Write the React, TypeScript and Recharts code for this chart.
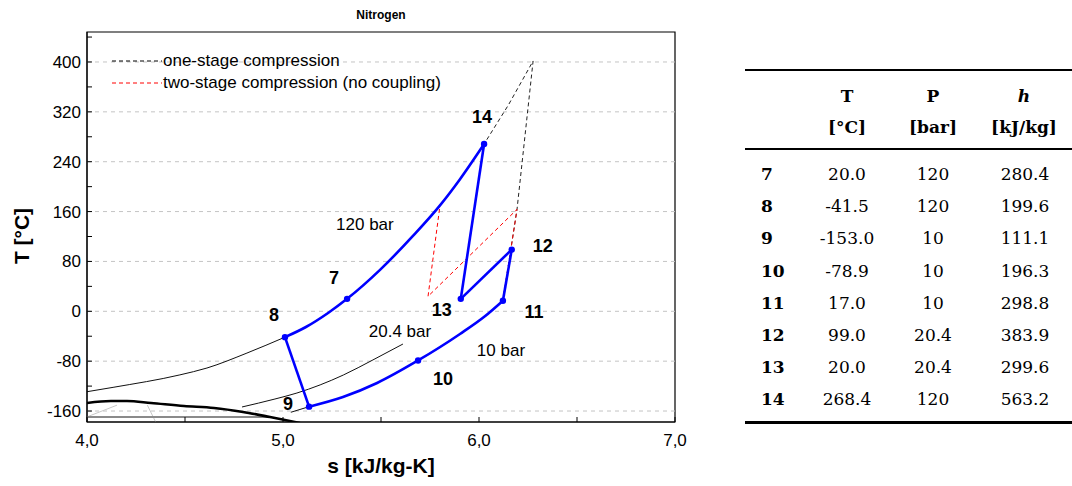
import {
  ComposedChart,
  Line,
  Scatter,
  XAxis,
  YAxis,
  ReferenceLine,
  ReferenceArea,
} from 'recharts'

// state points 7..14 (table + blue markers)
const stateIds = ['7', '8', '9', '10', '11', '12', '13', '14']
const stateS = [5.327, 5.01, 5.133, 5.689, 6.122, 6.167, 5.907, 6.026]
const stateT = [20.0, -41.5, -153.0, -78.9, 17.0, 99.0, 20.0, 268.4]
const stateP = ['120', '120', '10', '10', '10', '20.4', '20.4', '120']
const stateH = ['280.4', '199.6', '111.1', '196.3', '298.8', '383.9', '299.6', '563.2']

// 120 bar isobar, blue part 8 -> 7 -> 14
const bar120S = [5.01, 5.117, 5.23, 5.327, 5.495, 5.663, 5.801, 5.903, 6.026]
const bar120T = [-41.5, -25.2, -2.7, 20.0, 66.5, 121, 170, 212, 268.4]
// 120 bar isobar, thin black part left of 8
const bar120LowS = [4.0, 4.133, 4.474, 4.612, 4.816, 5.01]
const bar120LowT = [-129, -122, -102, -91, -67, -41.5]
// 10 bar isobar, blue part 9 -> 10 -> 11
const bar10S = [5.133, 5.306, 5.48, 5.689, 5.903, 6.03, 6.122]
const bar10T = [-153, -137.5, -115, -78.9, -36.4, -8, 17.0]
// 10 bar isobar, thin black below 9
const bar10LowS = [5.04, 5.133]
const bar10LowT = [-162, -153]
// 20.4 bar isobar (thin black)
const bar204S = [4.791, 4.959, 5.071, 5.308, 5.459, 5.612]
const bar204T = [-153.5, -140.7, -131.1, -102.2, -78, -52.5]
// saturation dome (vapour side)
const domeS = [4.0, 4.122, 4.204, 4.327, 4.495, 4.648, 4.796, 4.934, 5.087]
const domeT = [-147.1, -143.9, -143.9, -147.1, -151.9, -155.1, -161.5, -169.6, -179.2]
// lines inside the dome
const wetS = [4.0, 4.934]
const wetT = [-169.6, -169.6]
const quality1S = [4.0, 4.153]
const quality1T = [-169.4, -150.6]
const quality2S = [4.308, 4.35]
const quality2T = [-150.6, -177.4]
// one-stage compression 11 -> 120 bar, then cooling to 14
const oneStageS = [6.122, 6.194, 6.276, 6.15, 6.026]
const oneStageT = [17.0, 163.6, 401.6, 331, 268.4]
// two-stage compression (no coupling)
const twoStageS = [6.122, 6.194, 5.74, 5.801]
const twoStageT = [17.0, 163.6, 24, 170]

const isobarNames = ['120 bar', '20.4 bar', '10 bar']
const isobarLabelS = [5.418, 5.597, 6.112]
const isobarLabelT = [138.5, -33.2, -62.1]

const xTicks = [4, 4.5, 5, 5.5, 6, 6.5, 7]
const yTicks = [-160, -120, -80, -40, 0, 40, 80, 120, 160, 200, 240, 280, 320, 360, 400, 440]
const yGrid = [-160, -80, 0, 80, 160, 240, 320, 400]

const labelOffsets: Record<string, [number, number]> = {
  '7': [-13, -21],
  '8': [-11, -22],
  '9': [-21, -3],
  '10': [25, 19],
  '11': [31, 11],
  '12': [31, -4],
  '13': [-19, 11],
  '14': [-2, -27],
}

const pts = (s: number[], t: number[]) => s.map((v, i) => ({ s: v, T: t[i] }))
const seg = (a: number, b: number) => [
  { s: stateS[a], T: stateT[a] },
  { s: stateS[b], T: stateT[b] },
]

const statePoints = stateIds.map((id, i) => ({ id, s: stateS[i], T: stateT[i] }))
const isobarLabels = isobarNames.map((name, i) => ({ name, s: isobarLabelS[i], T: isobarLabelT[i] }))

const BLUE = '#0000ff'
const FONT = '"Liberation Sans", Arial, sans-serif'
const SERIF = '"DejaVu Serif", serif'

function StateMarker(props: any) {
  const { cx, cy, payload } = props
  const [dx, dy] = labelOffsets[payload.id] ?? [0, 0]
  return (
    <g>
      <circle cx={cx} cy={cy} r={3.2} fill={BLUE} />
      <text
        x={cx + dx}
        y={cy + dy}
        textAnchor="middle"
        dominantBaseline="central"
        fontSize={18}
        fontWeight="bold"
        fontFamily={FONT}
        fill="#000"
      >
        {payload.id}
      </text>
    </g>
  )
}

function IsobarLabel(props: any) {
  const { cx, cy, payload } = props
  return (
    <text x={cx} y={cy} textAnchor="middle" dominantBaseline="central" fontSize={17} fontFamily={FONT} fill="#000">
      {payload.name}
    </text>
  )
}

function line(key: string, data: any[], stroke: string, width: number, opts: any = {}) {
  return (
    <Line
      key={key}
      data={data}
      dataKey="T"
      type={opts.type ?? 'linear'}
      stroke={stroke}
      strokeWidth={width}
      strokeDasharray={opts.dash}
      dot={false}
      activeDot={false}
      isAnimationActive={false}
      legendType="none"
    />
  )
}

function Legend() {
  const rows = [
    { color: '#000', text: 'one-stage compression', y: 61 },
    { color: '#ff0000', text: 'two-stage compression (no coupling)', y: 83 },
  ]
  return (
    <>
      {rows.map((r) => (
        <div key={r.text} style={{ position: 'absolute', left: 112, top: r.y - 11, height: 22, display: 'flex', alignItems: 'center' }}>
          <svg width={50} height={4}>
            <line x1={0} y1={2} x2={50} y2={2} stroke={r.color} strokeWidth={1} strokeDasharray="4 3" />
          </svg>
          <span style={{ fontFamily: FONT, fontSize: 17, marginLeft: 1, color: '#000' }}>{r.text}</span>
        </div>
      ))}
    </>
  )
}

function StateTable() {
  const cols = [
    { x: 847, head: 'T', unit: '[°C]', italic: false },
    { x: 933, head: 'P', unit: '[bar]', italic: false },
    { x: 1024, head: 'h', unit: '[kJ/kg]', italic: true },
  ]
  const cell = (x: number, y: number, text: string, style: any = {}) => (
    <div
      style={{
        position: 'absolute',
        left: x - 60,
        top: y - 12,
        width: 120,
        height: 24,
        lineHeight: '24px',
        textAlign: 'center',
        fontFamily: SERIF,
        fontSize: 17,
        color: '#000',
        ...style,
      }}
    >
      {text}
    </div>
  )
  return (
    <>
      <div style={{ position: 'absolute', left: 745, top: 69, width: 327, height: 2, background: '#000' }} />
      <div style={{ position: 'absolute', left: 745, top: 148, width: 327, height: 1.5, background: '#000' }} />
      <div style={{ position: 'absolute', left: 745, top: 421, width: 327, height: 2.5, background: '#000' }} />
      {cols.map((c) => (
        <div key={c.head}>
          {cell(c.x, 96, c.head, { fontWeight: 'bold', fontStyle: c.italic ? 'italic' : 'normal' })}
          {cell(c.x, 127, c.unit, { fontWeight: 'bold' })}
        </div>
      ))}
      {stateIds.map((id, i) => {
        const y = 174 + i * 32.2
        return (
          <div key={id}>
            {cell(761 + 60, y, id, { fontWeight: 'bold', textAlign: 'left' })}
            {cell(847, y, stateT[i].toFixed(1))}
            {cell(933, y, stateP[i])}
            {cell(1025, y, stateH[i])}
          </div>
        )
      })}
    </>
  )
}

export default function App() {
  return (
    <div style={{ position: 'absolute', left: 0, top: 0, width: 1072, height: 486, background: '#fff', overflow: 'hidden' }}>
      <div style={{ position: 'absolute', left: 0, top: 0 }}>
        <ComposedChart width={700} height={486} margin={{ top: 32, right: 25, bottom: 34, left: 27 }}>
          <XAxis
            dataKey="s"
            type="number"
            domain={[4, 7]}
            ticks={xTicks}
            interval={0}
            allowDataOverflow
            height={30}
            tickSize={-5}
            tickMargin={17}
            tickFormatter={(v: number) => (Number.isInteger(v) ? v.toFixed(1).replace('.', ',') : '')}
            tick={{ fontSize: 17, fill: '#000', fontFamily: FONT }}
            stroke="#000"
          />
          <XAxis
            xAxisId="top"
            orientation="top"
            type="number"
            domain={[4, 7]}
            ticks={xTicks}
            interval={0}
            height={0}
            tickSize={-5}
            tickFormatter={() => ''}
            stroke="#000"
          />
          <YAxis
            dataKey="T"
            type="number"
            domain={[-177.6, 448.1]}
            ticks={yTicks}
            interval={0}
            allowDataOverflow
            width={60}
            tickSize={-5}
            tickMargin={11}
            tickFormatter={(v: number) => (v % 80 === 0 ? String(v) : '')}
            tick={{ fontSize: 17, fill: '#000', fontFamily: FONT }}
            stroke="#000"
          />
          {yGrid.map((v) => (
            <ReferenceLine key={v} y={v} stroke="#c4c4c4" strokeDasharray="4 4" strokeWidth={1} />
          ))}
          <ReferenceArea x1={4} x2={7} y1={-177.6} y2={448.1} fill="none" stroke="#000" strokeWidth={1.2} />

          {line('quality1', pts(quality1S, quality1T), '#c8c8c8', 1)}
          {line('quality2', pts(quality2S, quality2T), '#c8c8c8', 1)}
          {line('wet', pts(wetS, wetT), '#8a8a8a', 2)}
          {line('dome', pts(domeS, domeT), '#000', 2.6, { type: 'monotone' })}
          {line('bar120low', pts(bar120LowS, bar120LowT), '#111', 1, { type: 'monotone' })}
          {line('bar204', pts(bar204S, bar204T), '#111', 1, { type: 'monotone' })}
          {line('bar10low', pts(bar10LowS, bar10LowT), '#111', 1)}
          {line('oneStage', pts(oneStageS, oneStageT), '#222', 1, { dash: '4 3' })}
          {line('twoStage', pts(twoStageS, twoStageT), '#ff0000', 1, { dash: '4 3' })}

          {line('bar120', pts(bar120S, bar120T), BLUE, 2.6, { type: 'monotone' })}
          {line('bar10', pts(bar10S, bar10T), BLUE, 2.6, { type: 'monotone' })}
          {line('s8-9', seg(1, 2), BLUE, 2.6)}
          {line('s11-12', seg(4, 5), BLUE, 2.6)}
          {line('s12-13', seg(5, 6), BLUE, 2.6)}
          {line('s13-14', seg(6, 7), BLUE, 2.6)}

          <Scatter data={isobarLabels} shape={<IsobarLabel />} isAnimationActive={false} legendType="none" />
          <Scatter data={statePoints} shape={<StateMarker />} isAnimationActive={false} legendType="none" />
        </ComposedChart>
      </div>

      <div style={{ position: 'absolute', left: 331, top: 8, width: 100, textAlign: 'center', fontFamily: FONT, fontSize: 12, fontWeight: 'bold' }}>
        Nitrogen
      </div>
      <div style={{ position: 'absolute', left: 231, top: 454, width: 300, textAlign: 'center', fontFamily: FONT, fontSize: 21, fontWeight: 'bold' }}>
        s [kJ/kg-K]
      </div>
      <div
        style={{
          position: 'absolute',
          left: 22 - 60,
          top: 236 - 13,
          width: 120,
          height: 26,
          lineHeight: '26px',
          textAlign: 'center',
          fontFamily: FONT,
          fontSize: 21,
          fontWeight: 'bold',
          transform: 'rotate(-90deg)',
        }}
      >
        T [°C]
      </div>
      <Legend />
      <StateTable />
    </div>
  )
}
